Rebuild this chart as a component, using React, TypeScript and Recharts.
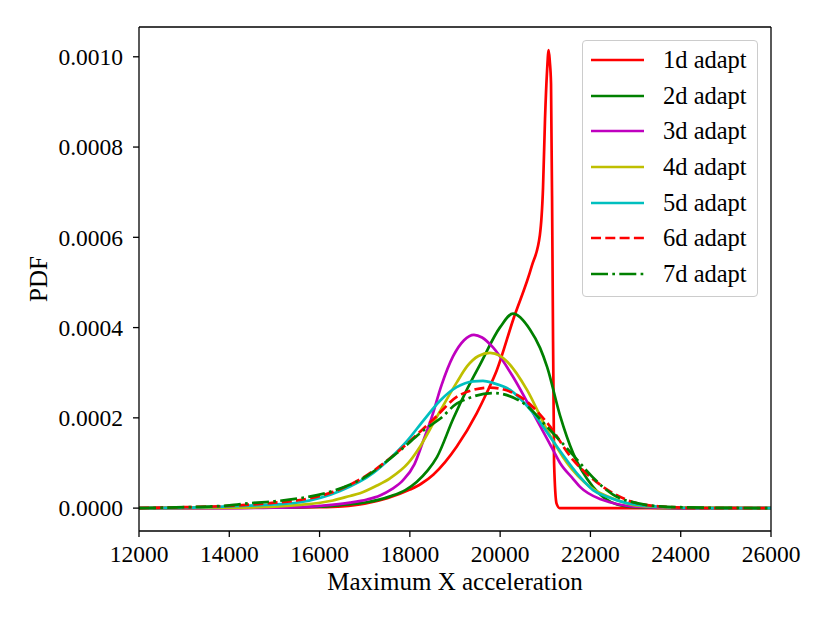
import React from 'react';
import { LineChart, Line, XAxis, YAxis, ReferenceLine } from 'recharts';

// x ticks / y ticks
const xTicks = [12000, 14000, 16000, 18000, 20000, 22000, 24000, 26000];
const yTicks = [0, 0.0002, 0.0004, 0.0006, 0.0008, 0.001];
const xDomain = [12000, 26000];
const yDomain = [-0.0000507, 0.001066];

// each curve as [x, pdf] pairs
const adapt1d = [
  [12000, 0], [14000, 0.0000005], [15000, 0.000001], [16000, 0.000002], [16500, 0.000004],
  [17000, 0.00001], [17500, 0.000022], [18000, 0.000041], [18250, 0.000054], [18518, 0.000074],
  [18780, 0.000102], [19036, 0.000136], [19480, 0.00021], [19701, 0.000255], [19924, 0.000305],
  [20290, 0.000418], [20700, 0.000536], [20880, 0.000605], [20950, 0.00071], [20994, 0.000862],
  [21040, 0.00097], [21075, 0.001015], [21100, 0.00099], [21127, 0.00094], [21160, 0.00055],
  [21195, 0.0001], [21250, 0.00001], [21320, 0], [26000, 0],
];
const adapt2d = [
  [12000, 0], [15000, 0.000001], [16000, 0.000003], [16500, 0.000007], [17050, 0.000013],
  [17560, 0.000026], [17900, 0.00004], [18150, 0.000058], [18400, 0.000084], [18600, 0.000113],
  [18960, 0.000198], [19260, 0.000262], [19554, 0.000318], [20000, 0.000401], [20285, 0.000431],
  [20660, 0.000396], [20884, 0.000355], [21040, 0.000313], [21327, 0.000205], [21615, 0.000122],
  [22057, 0.000047], [22590, 0.000008], [23000, 0.000002], [24000, 0], [26000, 0],
];
const adapt3d = [
  [12000, 0], [14000, 0], [15000, 0.000001], [15567, 0.000002], [16000, 0.000005],
  [16674, 0.000012], [17051, 0.000019], [17339, 0.000028], [17600, 0.000042], [17850, 0.000062],
  [18100, 0.000097], [18300, 0.00015], [18480, 0.0002], [18700, 0.000272], [18956, 0.000336],
  [19200, 0.000372], [19420, 0.000384], [19600, 0.000378], [19842, 0.000356], [20285, 0.000291],
  [20728, 0.000211], [21171, 0.000129], [21327, 0.0001], [21615, 0.000065], [21770, 0.000047],
  [22213, 0.00002], [22434, 0.000013], [23000, 0.000003], [24000, 0], [26000, 0],
];
const adapt4d = [
  [12000, 0], [14000, 0.000001], [15000, 0.000003], [15567, 0.000007], [16298, 0.000017],
  [16674, 0.000027], [16896, 0.000033], [17272, 0.00005], [17560, 0.000066], [17966, 0.0001],
  [18225, 0.000136], [18630, 0.000208], [19036, 0.000278], [19266, 0.000314], [19520, 0.000337],
  [19776, 0.000344], [19990, 0.000338], [20152, 0.000325], [20595, 0.000262], [21040, 0.000173],
  [21482, 0.0001], [21991, 0.000047], [22590, 0.000018], [23000, 0.000006], [24000, 0.000001],
  [26000, 0],
];
const adapt5d = [
  [12000, 0], [13000, 0.000001], [14000, 0.000004], [15000, 0.000008], [15567, 0.000013],
  [16453, 0.000038], [17191, 0.000078], [17560, 0.00011], [17930, 0.000148], [18299, 0.000194],
  [18668, 0.000238], [19036, 0.000268], [19406, 0.000281], [19620, 0.000282], [19849, 0.000277],
  [20219, 0.000262], [20728, 0.000211], [21260, 0.000136], [21770, 0.000069], [22057, 0.00004],
  [22368, 0.000025], [22810, 0.000011], [23500, 0.000003], [24500, 0], [26000, 0],
];
const adapt6d = [
  [12000, 0], [13000, 0.000002], [14000, 0.000005], [15000, 0.000012], [15567, 0.000018],
  [16300, 0.000036], [17051, 0.000073], [17782, 0.000129], [18513, 0.000196], [19111, 0.000251],
  [19776, 0.000267], [20440, 0.000247], [21040, 0.000189], [21615, 0.000107], [22213, 0.000052],
  [22810, 0.000018], [23500, 0.000004], [24500, 0], [26000, 0],
];
const adapt7d = [
  [12000, 0], [13000, 0.000002], [14000, 0.000006], [14460, 0.000011], [15000, 0.000015],
  [15567, 0.000022], [16231, 0.000036], [16962, 0.000066], [17715, 0.000122], [18380, 0.000178],
  [18668, 0.000198], [19045, 0.000232], [19259, 0.000242], [19842, 0.000255], [20507, 0.000233],
  [21105, 0.000173], [21770, 0.0001], [21925, 0.000082], [22500, 0.00003], [23032, 0.000011],
  [23540, 0.000004], [24500, 0.000001], [26000, 0],
];

const seriesNames = ['1d adapt', '2d adapt', '3d adapt', '4d adapt', '5d adapt', '6d adapt', '7d adapt'];
const seriesData = [adapt1d, adapt2d, adapt3d, adapt4d, adapt5d, adapt6d, adapt7d];
const seriesColors = ['#ff0000', '#008000', '#bf00bf', '#bfbf00', '#00bfbf', '#ff0000', '#008000'];
const seriesDash = [undefined, undefined, undefined, undefined, undefined, '10 4.3', '17 4.3 2.7 4.3'];

const FONT = '"Liberation Serif", "Times New Roman", serif';
const tickStyle = { fontFamily: FONT, fontSize: 23.5, fill: '#000' };

const toPoints = (arr: number[][]) => arr.map(([x, y]) => ({ x, y }));

function YLabel() {
  return (
    <text x={38} y={279} transform="rotate(-90 38 279)" textAnchor="middle" dominantBaseline="central"
      style={{ fontFamily: FONT, fontSize: 25, fill: '#000' }}>
      PDF
    </text>
  );
}

function LegendBox() {
  return (
    <div style={{
      position: 'absolute', left: 582, top: 40, width: 176, height: 257, boxSizing: 'border-box',
      border: '1px solid #cccccc', borderRadius: 4, background: 'rgba(255,255,255,0.8)', paddingTop: 1,
    }}>
      {seriesNames.map((name, i) => (
        <div key={name} style={{ height: 35.7, display: 'flex', alignItems: 'center' }}>
          <svg width={53} height={10} style={{ marginLeft: 8 }}>
            <line x1={0} y1={5} x2={53} y2={5} stroke={seriesColors[i]} strokeWidth={2.7}
              strokeDasharray={seriesDash[i]} />
          </svg>
          <span style={{ marginLeft: 19, fontFamily: FONT, fontSize: 24.5, color: '#000', lineHeight: '36px' }}>{name}</span>
        </div>
      ))}
    </div>
  );
}

export default function App() {
  return (
    <div style={{ position: 'absolute', left: 0, top: 0, width: 830, height: 623, background: '#fff' }}>
      <LineChart width={830} height={623} margin={{ top: 27, right: 59, bottom: 0, left: 0 }}>
        <XAxis dataKey="x" type="number" domain={xDomain} ticks={xTicks} allowDataOverflow
          height={92} stroke="#000" strokeWidth={1.3} tickSize={6} tickMargin={8} tick={tickStyle}
          tickLine={{ stroke: '#000', strokeWidth: 1.3 }}
          label={{ value: 'Maximum X acceleration', position: 'insideBottom', offset: 33, style: { fontFamily: FONT, fontSize: 25, fill: '#000' } }} />
        <YAxis type="number" domain={yDomain} ticks={yTicks} allowDataOverflow
          width={139} stroke="#000" strokeWidth={1.3} tickSize={6} tickMargin={10} tick={tickStyle}
          tickLine={{ stroke: '#000', strokeWidth: 1.3 }}
          tickFormatter={(v: number) => v.toFixed(4)} label={<YLabel />} />
        {seriesData.map((d, i) => (
          <Line key={seriesNames[i]} data={toPoints(d)} dataKey="y" name={seriesNames[i]} type="monotone"
            stroke={seriesColors[i]} strokeWidth={2.7} strokeDasharray={seriesDash[i]} dot={false}
            activeDot={false} isAnimationActive={false} />
        ))}
        <ReferenceLine y={yDomain[1]} stroke="#000" strokeWidth={1.3} />
        <ReferenceLine x={xDomain[1]} stroke="#000" strokeWidth={1.3} />
      </LineChart>
      <LegendBox />
    </div>
  );
}
